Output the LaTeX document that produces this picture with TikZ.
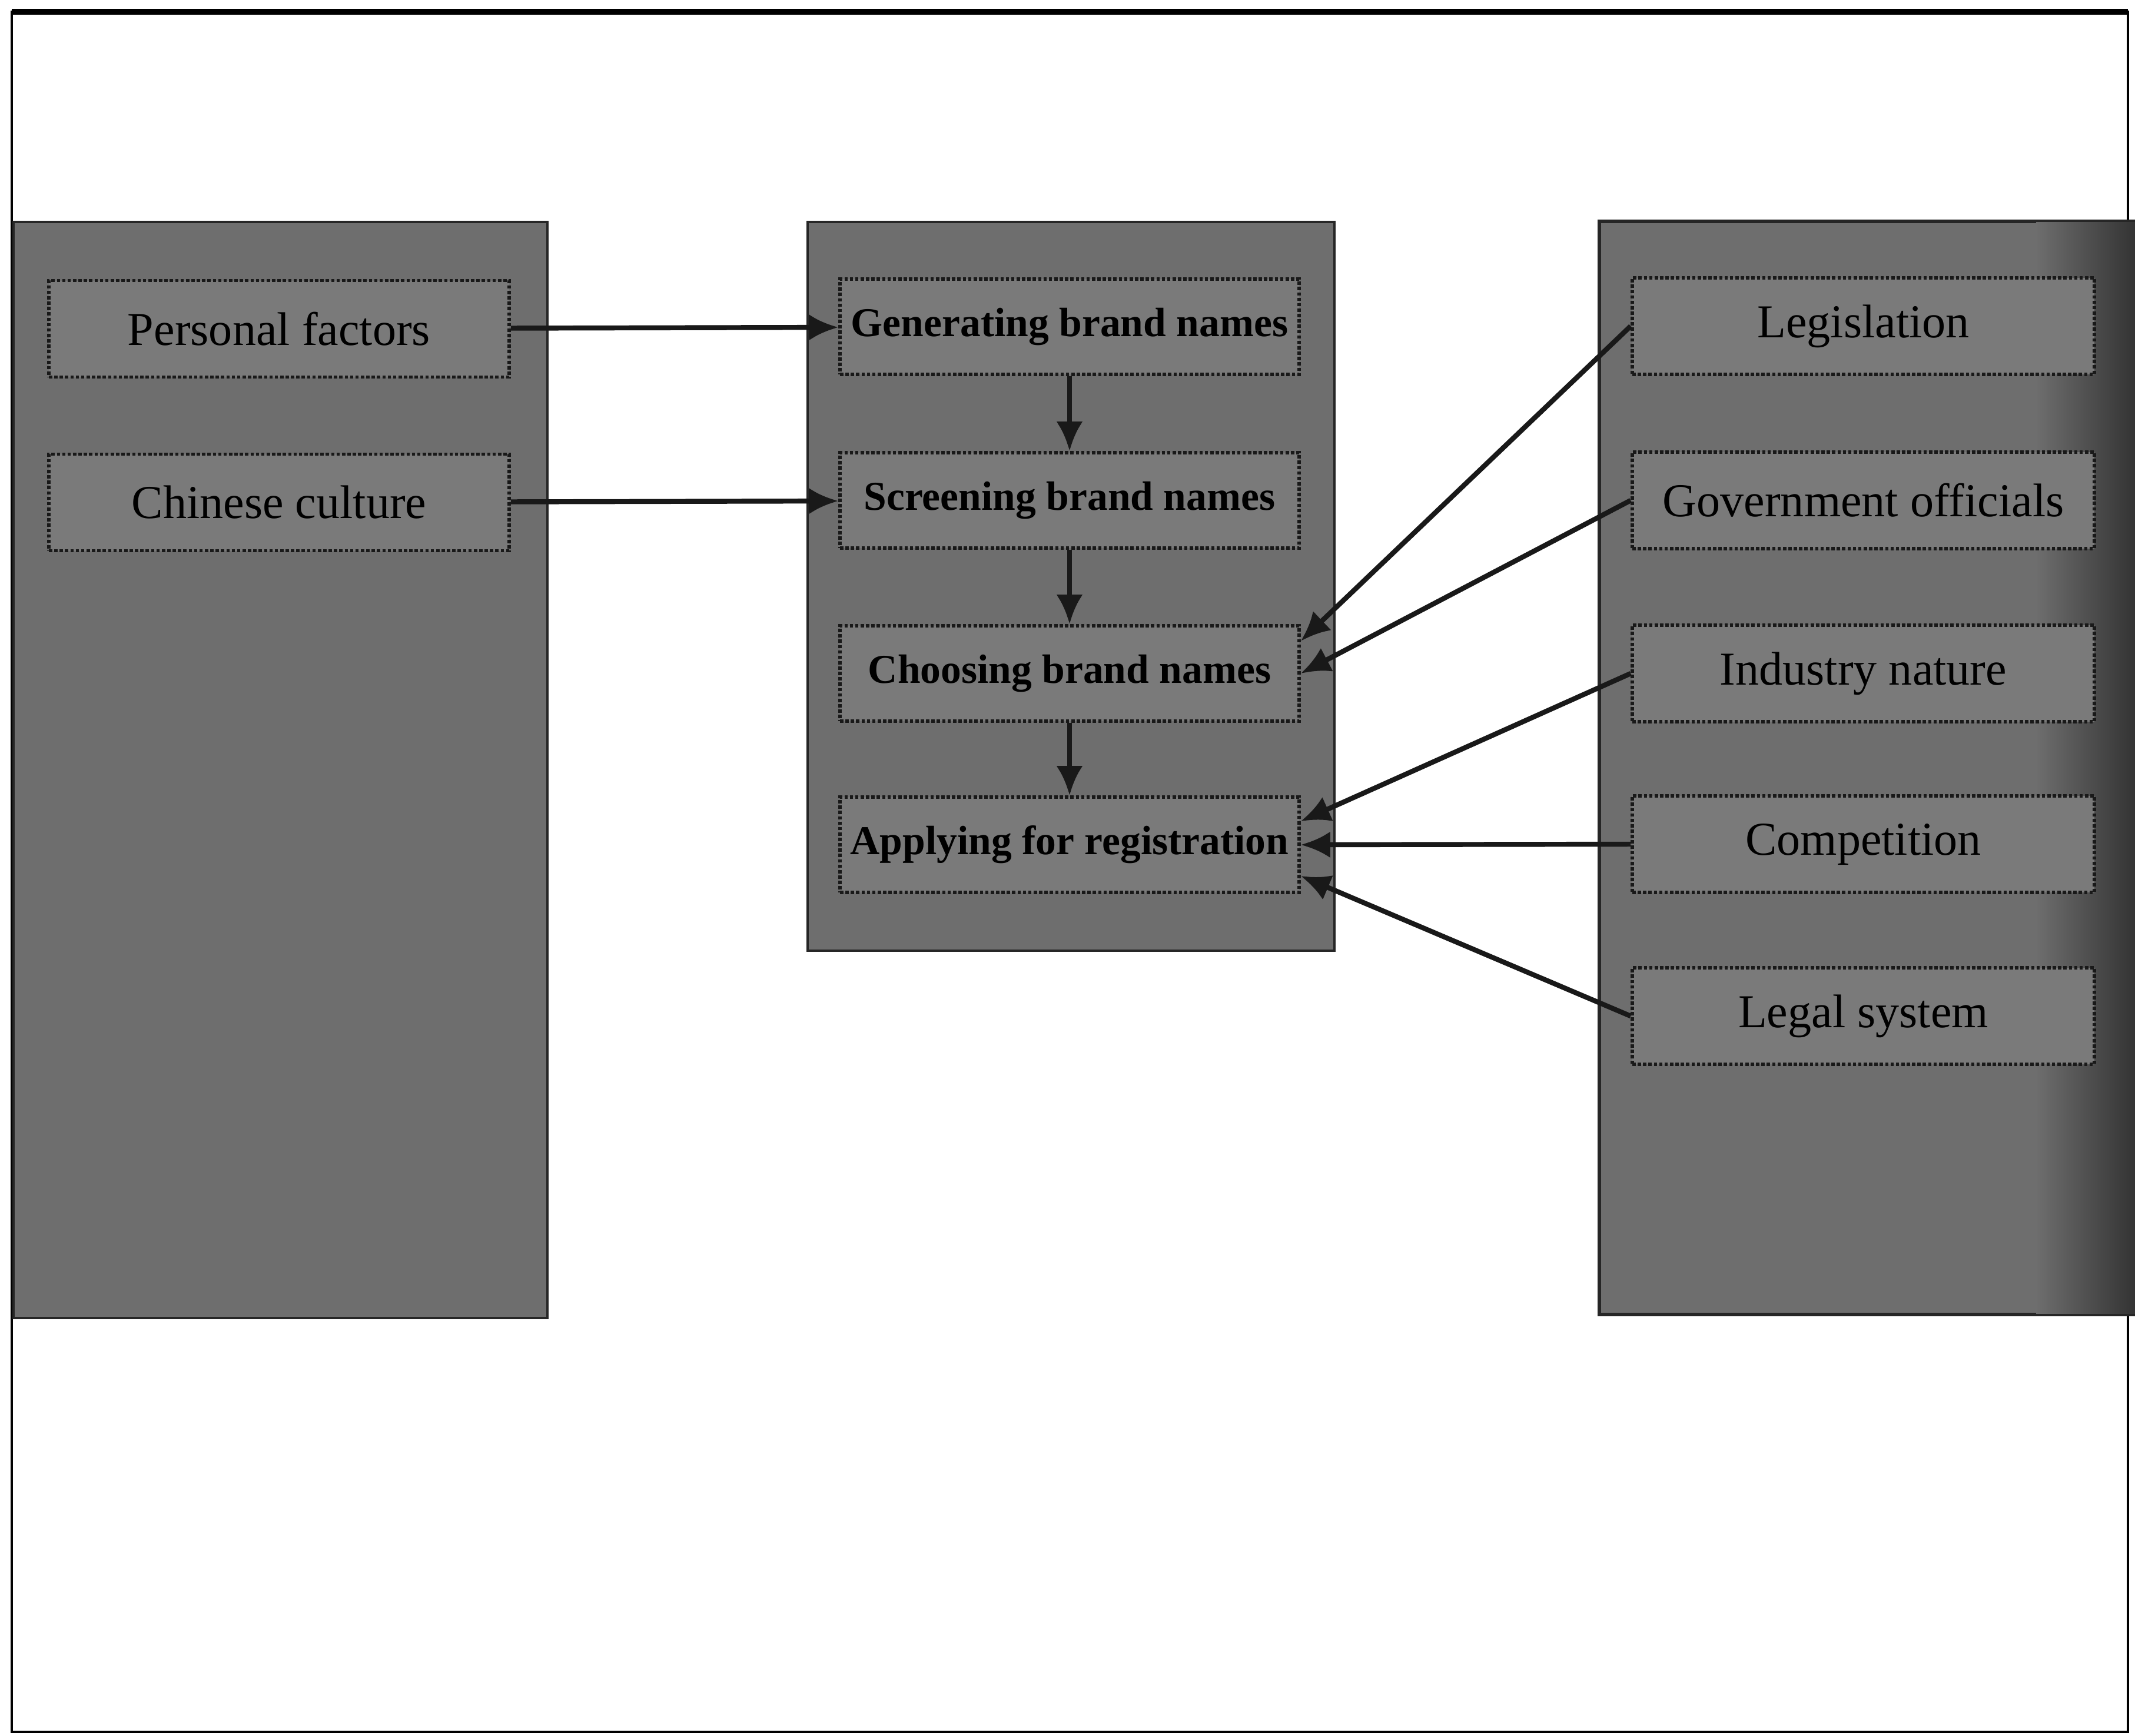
\documentclass[tikz,border=0pt]{standalone}
\usepackage{fontspec}
\setmainfont{Liberation Serif}
\usetikzlibrary{arrows.meta}

\begin{document}
\begin{tikzpicture}

\tikzstyle{panel}=[rectangle, draw=black!85, line width=1.2pt, fill=black!57, inner sep=0pt]
\tikzstyle{factor}=[rectangle, draw=black!90, densely dotted, line width=1.6pt, fill=black!52, minimum height=1.64cm, font=\fontsize{22.8}{27}\selectfont]
\tikzstyle{stage}=[factor, minimum width=7.8cm, minimum height=1.62cm, font=\fontsize{19.8}{24}\selectfont\bfseries]
\tikzstyle{arrow}=[-{Latex[length=5mm,width=4.5mm]}, line width=2.4pt, black!90]

\useasboundingbox (0,0) rectangle (36.27,-29.49);

% frame
\draw [line width=1pt] (0.2,-0.2) rectangle (36.15,-29.42);
\draw [line width=3pt] (0.2,-0.2) -- (36.15,-0.2);

% three panels
\node (PL) [panel, minimum width=9.07cm, minimum height=18.62cm] at (4.765,-13.08) {};
\node (PM) [panel, minimum width=8.95cm, minimum height=12.38cm] at (18.195,-9.96) {};
\node (PR) [panel, minimum width=9.09cm, minimum height=18.55cm] at (31.725,-13.045) {};
\shade [left color=black!57, right color=black!80] ([xshift=-1.7cm]PR.north east) rectangle (PR.south east);
\draw [draw=black!85, line width=1.2pt] (PR.north west) rectangle (PR.south east);

% left factors
\node (pers) [factor, minimum width=7.82cm] at (4.74,-5.585) {Personal factors};
\node (chin) [factor, minimum width=7.82cm] at (4.74,-8.535) {Chinese culture};

% naming stages
\node (gen)   [stage] at (18.17,-5.55)  {Generating brand names};
\node (scr)   [stage] at (18.17,-8.50)  {Screening brand names};
\node (cho)   [stage] at (18.17,-11.44) {Choosing brand names};
\node (app)   [stage] at (18.17,-14.35) {Applying for registration};

% right factors
\node (legis) [factor, minimum width=7.85cm] at (31.655,-5.54)  {Legislation};
\node (gov)   [factor, minimum width=7.85cm] at (31.655,-8.50)  {Government officials};
\node (ind)   [factor, minimum width=7.85cm] at (31.655,-11.44) {Industry nature};
\node (comp)  [factor, minimum width=7.85cm] at (31.655,-14.34) {Competition};
\node (legal) [factor, minimum width=7.85cm] at (31.655,-17.26) {Legal system};

\draw [arrow] (pers) -- (gen);
\draw [arrow] (chin) -- (scr);

\draw [arrow] (gen) -- (scr);
\draw [arrow] (scr) -- (cho);
\draw [arrow] (cho) -- (app);

\draw [arrow] (legis.west) -- ([yshift=5.5mm]cho.east);
\draw [arrow] (gov.west)   -- (cho.east);
\draw [arrow] (ind.west)   -- ([yshift=4mm]app.east);
\draw [arrow] (comp.west)  -- (app.east);
\draw [arrow] (legal.west) -- ([yshift=-5.3mm]app.east);

\end{tikzpicture}
\end{document}
